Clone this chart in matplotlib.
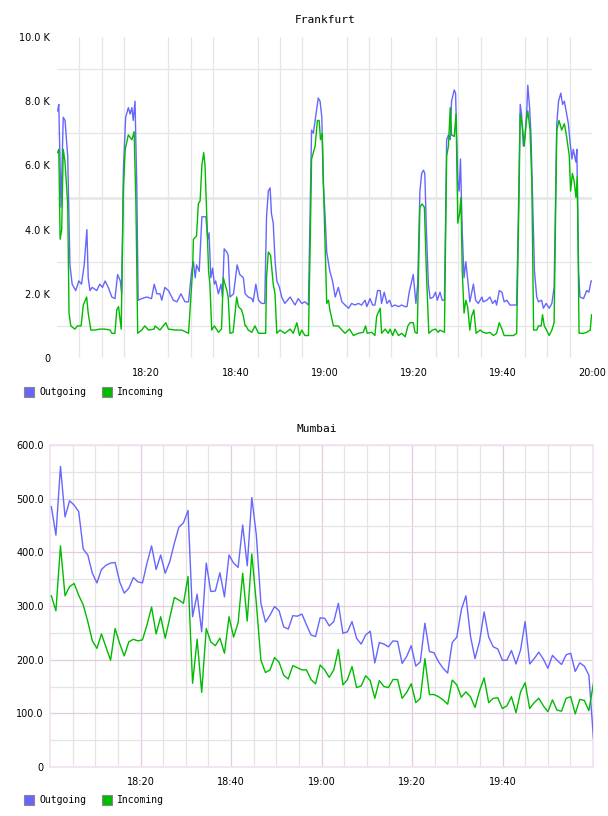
import numpy as np
import matplotlib
matplotlib.use("Agg")
import matplotlib.pyplot as plt
from matplotlib.ticker import FixedLocator, FuncFormatter
from matplotlib.patches import Rectangle

W, H = 608, 816

series_names = ["Outgoing", "Incoming"]
series_colors = ["#6666ff", "#00bb00"]

# Frankfurt : minutes after 18:00, traffic in thousands
fra_out_t = [0.15, 0.4, 0.9, 1.4, 1.8, 2.4, 2.9, 3.4, 4.2, 4.9, 5.5, 6.1, 6.7, 7.0, 7.4, 7.9, 8.9, 9.6, 10.2, 10.8,
             11.5, 12.3, 13.0, 13.6, 14.2, 14.5, 14.9, 15.4, 16.0, 16.4, 16.8, 17.1, 17.5, 17.9, 18.2, 19.0, 20.1,
             21.2, 21.8, 22.4, 23.1, 23.5, 24.2, 25.0, 26.1, 26.9, 27.8, 28.7, 29.5, 30.2, 30.6, 31.0, 31.3, 31.9,
             32.5, 33.4, 33.8, 34.1, 34.5, 34.9, 35.3, 35.6, 36.2, 36.8, 37.1, 37.5, 38.1, 38.4, 38.8, 39.6, 40.4,
             41.0, 41.8, 42.2, 42.9, 43.7, 44.0, 44.6, 45.2, 45.9, 46.6, 47.0, 47.4, 47.8, 48.1, 48.5, 48.9, 49.3,
             49.9, 50.4, 51.1, 52.3, 53.4, 54.1, 54.9, 55.6, 56.4, 57.1, 57.5, 58.1, 58.6, 59.0, 59.4, 59.7, 60.1,
             60.5, 61.2, 61.8, 62.4, 63.1, 63.9, 64.6, 65.4, 66.1, 66.8, 67.6, 68.3, 69.1, 69.5, 70.2, 70.8, 71.3,
             71.9, 72.5, 72.8, 73.4, 74.0, 74.6, 75.1, 75.8, 76.6, 77.3, 78.1, 78.5, 79.0, 79.9, 80.5, 80.9, 81.4,
             81.8, 82.2, 82.5, 82.9, 83.3, 83.7, 84.4, 84.9, 85.3, 85.9, 86.4, 86.9, 87.4, 87.8, 88.2, 88.5, 89.1,
             89.4, 89.9, 90.2, 90.5, 90.9, 91.3, 91.7, 92.3, 92.6, 93.4, 93.9, 94.5, 95.3, 95.6, 96.4, 97.1, 97.7,
             98.3, 98.6, 99.2, 99.8, 100.3, 100.9, 101.6, 102.4, 103.1, 103.5, 103.9, 104.2, 104.6, 105.0, 105.4,
             105.6, 106.0, 106.3, 106.7, 107.1, 107.6, 108.0, 108.7, 109.1, 109.7, 110.4, 111.0, 111.5, 112.1,
             112.5, 113.0, 113.4, 113.8, 114.3, 114.7, 115.1, 115.5, 115.8, 116.4, 116.6, 117.0, 117.3, 118.1,
             118.8, 119.3, 119.8, 120.3]
fra_out_k = [7.7, 7.9, 4.7, 7.5, 7.4, 6.3, 2.9, 2.3, 2.1, 2.4, 2.3, 2.9, 4.0, 2.5, 2.1, 2.2, 2.1, 2.3, 2.2, 2.4,
             2.2, 1.9, 1.85, 2.6, 2.4, 2.0, 5.9, 7.5, 7.8, 7.6, 7.8, 7.4, 8.0, 5.3, 1.8, 1.85, 1.9,
             1.85, 2.3, 2.0, 2.0, 1.8, 2.2, 2.1, 1.8, 1.75, 2.0, 1.75, 1.75, 2.7, 3.0, 2.5, 2.9, 2.7,
             4.4, 4.4, 3.7, 3.9, 2.5, 2.8, 2.3, 2.4, 2.0, 2.3, 1.9, 3.4, 3.3, 3.2, 1.9, 2.0, 2.9,
             2.6, 2.5, 2.0, 1.9, 1.85, 1.75, 2.3, 1.8, 1.7, 1.7, 4.4, 5.2, 5.3, 4.5, 4.2, 3.05, 2.4,
             2.2, 1.9, 1.7, 1.9, 1.65, 1.85, 1.7, 1.75, 1.65, 7.1, 7.0, 7.6, 8.1, 8.0, 7.5, 5.5, 4.5,
             3.3, 2.7, 2.4, 1.9, 2.2, 1.75, 1.65, 1.55, 1.7, 1.65, 1.7, 1.65, 1.8, 1.6, 1.85, 1.65, 1.65,
             2.1, 2.1, 1.7, 2.05, 1.7, 1.8, 1.6, 1.65, 1.6, 1.65, 1.6, 1.6, 2.05, 2.6, 1.7, 2.3, 5.2,
             5.75, 5.85, 5.75, 3.8, 2.3, 1.85, 1.9, 2.05, 1.8, 2.05, 1.8, 1.8, 6.8, 6.95, 6.8, 8.0, 8.35,
             8.25, 5.55, 5.2, 6.2, 3.9, 2.5, 3.0, 2.2, 1.75, 2.3, 1.8, 1.7, 1.9, 1.75, 1.8, 1.9, 1.7,
             1.8, 1.65, 2.1, 2.05, 1.75, 1.8, 1.65, 1.65, 1.65, 4.6, 7.9, 7.6, 6.6, 6.9, 7.8,
             8.5, 7.8, 7.0, 4.8, 2.7, 1.9, 1.75, 1.8, 1.55, 1.7, 1.55, 1.7, 2.2, 7.3,
             8.0, 8.25, 7.9, 8.0, 7.6, 7.3, 6.7, 6.2, 6.5, 6.1, 6.5, 2.7, 1.9, 1.85,
             2.1, 2.05, 2.4, 2.4]
fra_in_t = [0.15, 0.4, 0.7, 1.05, 1.4, 1.8, 2.4, 2.7, 3.1, 4.0, 4.6, 5.4, 5.9, 6.65, 7.0, 7.6, 8.5, 9.6, 10.8,
            11.9, 12.3, 13.0, 13.4, 13.8, 14.4, 14.9, 15.3, 16.0, 16.8, 17.3, 17.7, 18.1, 19.0, 19.7, 20.5, 21.8,
            22.0, 23.1, 24.4, 25.0, 26.5, 28.0, 29.5, 29.8, 30.4, 30.6, 31.3, 31.7, 32.1, 32.5, 32.9, 33.2, 33.6,
            34.0, 34.3, 34.7, 35.3, 36.2, 36.9, 37.3, 38.1, 38.4, 38.8, 39.5, 40.3, 40.7, 41.4, 41.8, 42.2, 42.4,
            42.9, 43.7, 44.4, 45.2, 46.3, 46.8, 47.0, 47.4, 47.9, 48.5, 48.9, 49.3, 50.0, 51.1, 52.3, 53.0, 53.8,
            54.4, 54.9, 55.6, 56.4, 56.8, 57.1, 57.9, 58.4, 58.8, 59.1, 59.5, 59.9, 60.5, 60.9, 61.2, 62.0, 62.7,
            63.1, 63.9, 64.6, 65.6, 66.5, 67.6, 68.7, 69.2, 69.6, 70.6, 71.3, 71.7, 72.5, 72.8, 73.6, 74.3, 74.7,
            75.3, 75.8, 76.6, 77.3, 78.1, 78.7, 79.2, 79.9, 80.3, 80.8, 81.4, 81.9, 82.4, 82.9, 83.4, 84.2, 84.9,
            85.5, 85.9, 86.9, 87.4, 87.8, 88.2, 88.5, 89.1, 89.5, 89.9, 90.3, 90.6, 90.9, 91.3, 91.7, 92.1, 92.6,
            93.0, 93.5, 94.0, 94.9, 95.6, 96.4, 97.1, 97.9, 98.6, 99.2, 99.8, 100.3, 101.2, 102.4, 103.1, 103.6,
            103.9, 104.4, 104.8, 105.2, 105.6, 106.1, 106.5, 106.9, 107.6, 108.0, 108.6, 108.9, 109.3, 109.8,
            110.4, 111.0, 111.5, 112.1, 112.6, 113.2, 113.8, 114.3, 114.9, 115.2, 115.6, 116.0, 116.4, 116.7,
            117.1, 118.1, 118.8, 119.6, 119.9, 120.3]
fra_in_k = [6.4, 6.5, 3.7, 4.0, 6.5, 6.1, 4.8, 1.4, 1.0, 0.9, 1.0, 1.0, 1.65, 1.9, 1.4, 0.87, 0.87, 0.9, 0.9,
            0.87, 0.77, 0.77, 1.5, 1.6, 0.9, 5.3, 6.5, 6.95, 6.8, 7.05, 4.8, 0.77, 0.87, 1.0, 0.87, 0.9,
            1.0, 0.87, 1.1, 0.9, 0.87, 0.87, 0.77, 1.4, 2.7, 3.7, 3.8, 4.8, 4.9, 6.0, 6.4, 6.0, 4.4,
            2.7, 2.3, 0.87, 1.0, 0.8, 0.9, 2.5, 2.1, 1.9, 0.77, 0.8, 1.9, 1.6, 1.5, 1.3, 1.0, 1.0,
            0.87, 0.8, 1.0, 0.77, 0.77, 0.77, 2.5, 3.3, 3.2, 2.3, 2.0, 0.77, 0.87, 0.77, 0.9, 0.77, 1.1,
            0.7, 0.87, 0.7, 0.7, 3.6, 6.2, 6.6, 7.4, 7.4, 6.8, 7.0, 4.7, 1.7, 1.8, 1.5, 1.0, 1.0,
            1.0, 0.87, 0.77, 0.9, 0.7, 0.77, 0.8, 1.0, 0.77, 0.8, 0.7, 1.3, 1.55, 0.77, 0.9, 0.77, 0.9,
            0.7, 0.9, 0.7, 0.77, 0.66, 1.0, 1.1, 1.1, 0.8, 0.77, 4.7, 4.8, 4.7, 2.5, 0.77, 0.87, 0.9,
            0.8, 0.87, 0.8, 6.3, 6.6, 7.8, 6.95, 6.9, 7.6, 4.2, 4.5, 5.0, 2.7, 1.4, 1.8, 1.6, 0.87,
            1.3, 1.5, 0.77, 0.87, 0.8, 0.77, 0.8, 0.7, 0.77, 1.1, 0.9, 0.7, 0.7, 0.7, 0.77, 4.8,
            7.6, 7.2, 6.6, 7.3, 7.7, 7.1, 5.5, 0.87, 0.87, 1.0, 1.0, 1.35, 1.0, 0.87,
            0.7, 0.87, 1.1, 7.1, 7.4, 7.1, 7.3, 6.9, 6.3, 5.2, 5.75, 5.5, 5.0, 5.65,
            0.77, 0.77, 0.8, 0.87, 1.35, 1.35]

# Mumbai : one sample per minute
mum_first, mum_last = 0.3, 120.1
mum_out = [485, 432, 560, 466, 496, 488, 476, 406, 395, 361, 343, 368, 376, 380, 381, 345, 324, 333, 353, 345,
           343, 380, 412, 368, 395, 361, 383, 417, 447, 455, 478, 280, 322, 252, 380, 327, 328, 362, 317, 395,
           380, 372, 451, 375, 502, 432, 305, 270, 283, 299, 291, 261, 257, 282, 281, 285, 265, 246, 243, 278,
           277, 263, 271, 305, 249, 252, 271, 240, 229, 246, 253, 194, 232, 229, 224, 235, 234, 193,
           206, 226, 188, 196, 268, 215, 213, 196, 184, 175, 232, 242, 293, 319, 244, 202, 234, 289, 242, 224,
           220, 199, 199, 217, 192, 218, 271, 192, 202, 214, 201, 184, 208, 199, 191, 209, 212, 178, 194, 188,
           171, 53]
mum_in = [319, 291, 412, 319, 336, 342, 320, 302, 271, 235, 221, 248, 223, 199, 258, 230, 207, 233, 238, 235,
          237, 265, 298, 248, 280, 240, 278, 316, 311, 305, 355, 156, 238, 139, 258, 233, 226, 240, 212, 280,
          242, 269, 361, 272, 397, 305, 199, 176, 181, 204, 195, 171, 164, 189, 185, 181, 181, 163, 155, 190,
          181, 167, 181, 219, 153, 163, 187, 148, 151, 170, 161, 128, 161, 150, 148, 163, 163, 128,
          139, 155, 120, 128, 202, 135, 135, 131, 125, 117, 162, 153, 130, 140, 131, 111, 142, 166, 120, 128,
          129, 109, 114, 131, 101, 140, 157, 109, 120, 128, 114, 103, 125, 106, 104, 128, 131, 99, 126, 124,
          105, 156]
mum_t = np.linspace(mum_first, mum_last, len(mum_out))


def box(l, t, r, b):
    # pixel box -> figure fraction [left, bottom, width, height]
    return [l / W, 1 - b / H, (r - l) / W, (b - t) / H]


def hhmm(m, _):
    m = int(round(m))
    return "%d:%02d" % (18 + m // 60, m % 60)


fig = plt.figure(figsize=(W / 100, H / 100), dpi=100)
tick_font = dict(family="DejaVu Sans", size=7)
mono = "DejaVu Sans Mono"

# ---------- Frankfurt
ax1 = fig.add_axes(box(57, 37, 592, 358))
ax1.plot(fra_out_t, fra_out_k, color=series_colors[0], lw=1.0, zorder=3)
ax1.plot(fra_in_t, fra_in_k, color=series_colors[1], lw=1.0, zorder=3)
ax1.set_xlim(0, 120)
ax1.set_ylim(0, 10)
for s in ax1.spines.values():
    s.set_visible(False)
ax1.xaxis.set_major_locator(FixedLocator(np.arange(20, 121, 20)))
ax1.xaxis.set_minor_locator(FixedLocator(np.arange(5, 121, 5)))
ax1.xaxis.set_major_formatter(FuncFormatter(hhmm))
ax1.yaxis.set_major_locator(FixedLocator(np.arange(0, 11, 2)))
ax1.yaxis.set_minor_locator(FixedLocator(np.arange(1, 10, 2)))
ax1.yaxis.set_major_formatter(FuncFormatter(lambda v, _: "0" if v == 0 else "%.1f K" % v))
ax1.grid(which="minor", color="#e6e6e6", lw=0.9)
ax1.grid(which="major", visible=False)
ax1.axhline(5, color="#ececec", lw=2.2, zorder=1)
ax1.tick_params(which="both", length=0)
ax1.tick_params(axis="y", pad=5)
ax1.tick_params(axis="x", pad=7)
for lab in ax1.get_xticklabels() + ax1.get_yticklabels():
    lab.set_fontfamily(tick_font["family"])
    lab.set_fontsize(tick_font["size"])
fig.text(325 / W, 1 - 20 / H, "Frankfurt", family=mono, size=8, ha="center", va="center")

# ---------- Mumbai
purple = "#e2cce2"
ax2 = fig.add_axes(box(50, 445, 593, 767))
ax2.plot(mum_t, mum_out, color=series_colors[0], lw=1.0, zorder=3)
ax2.plot(mum_t, mum_in, color=series_colors[1], lw=1.0, zorder=3)
ax2.set_xlim(0, 120)
ax2.set_ylim(0, 600)
for s in ax2.spines.values():
    s.set_color("#f0e4f0")
    s.set_linewidth(1.3)
ax2.xaxis.set_major_locator(FixedLocator(np.arange(20, 101, 20)))
ax2.xaxis.set_minor_locator(FixedLocator(np.arange(5, 120, 5)))
ax2.xaxis.set_major_formatter(FuncFormatter(hhmm))
ax2.yaxis.set_major_locator(FixedLocator(np.arange(0, 601, 100)))
ax2.yaxis.set_minor_locator(FixedLocator(np.arange(50, 600, 100)))
ax2.yaxis.set_major_formatter(FuncFormatter(lambda v, _: "0" if v == 0 else "%.1f" % v))
ax2.grid(which="minor", color="#e4e4e4", lw=0.9)
ax2.grid(which="major", color=purple, lw=0.9)
ax2.tick_params(which="both", length=0)
ax2.tick_params(axis="y", pad=4.5)
ax2.tick_params(axis="x", pad=7)
for lab in ax2.get_xticklabels() + ax2.get_yticklabels():
    lab.set_fontfamily(tick_font["family"])
    lab.set_fontsize(tick_font["size"])
fig.text(317 / W, 1 - 429 / H, "Mumbai", family=mono, size=8, ha="center", va="center")

# ---------- legends
for ly in (392, 800):
    for i, (name, col) in enumerate(zip(series_names, series_colors)):
        x0 = 24 + i * 78
        fig.add_artist(Rectangle((x0 / W, 1 - (ly + 5) / H), 10 / W, 10 / H,
                                 facecolor=col, edgecolor="#888888", lw=0.8,
                                 transform=fig.transFigure))
        fig.text((x0 + 15) / W, 1 - ly / H, name, family=mono, size=7, ha="left", va="center")

fig.savefig("out.png", dpi=100)
